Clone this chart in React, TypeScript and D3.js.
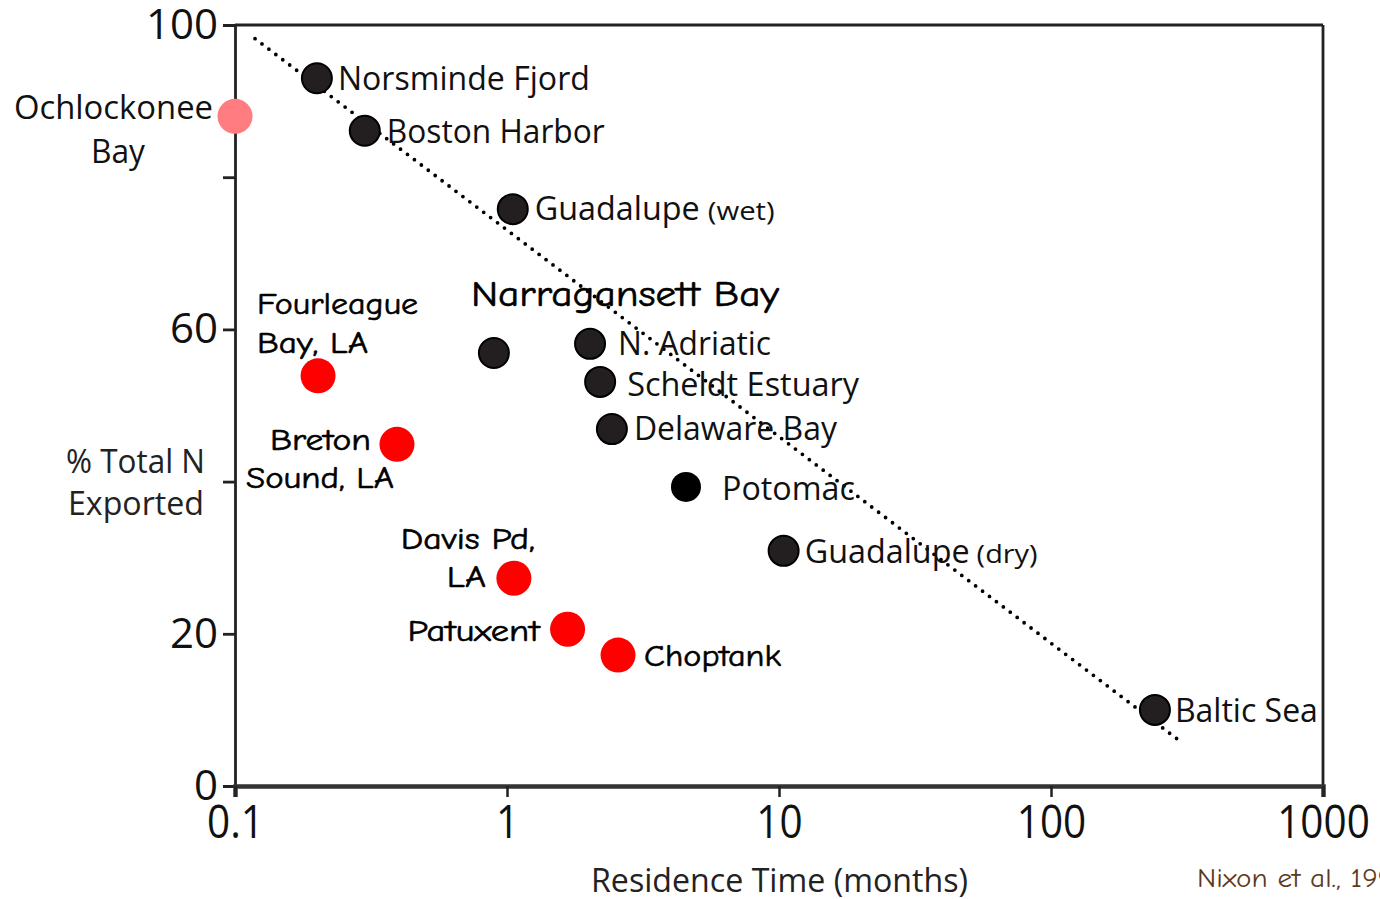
import React, { useEffect, useRef } from "react";
import * as d3 from "d3";

// ---- data ----
const sites = [
  "Ochlockonee Bay", "Norsminde Fjord", "Boston Harbor", "Guadalupe (wet)",
  "Narragansett Bay", "N. Adriatic", "Scheldt Estuary", "Delaware Bay",
  "Potomac", "Guadalupe (dry)", "Baltic Sea",
  "Fourleague Bay, LA", "Breton Sound, LA", "Davis Pd, LA", "Patuxent", "Choptank",
];
const residenceMonths = [0.1, 0.2, 0.3, 1.05, 0.895, 2.02, 2.2, 2.43, 4.55, 10.4, 241, 0.202, 0.394, 1.06, 1.67, 2.56];
const pctExported = [88.0, 93.0, 86.1, 75.8, 56.9, 58.1, 53.1, 46.9, 39.3, 30.9, 10.0, 53.9, 44.9, 27.3, 20.6, 17.2];
const siteGroup = ["pink", "black", "black", "black", "black", "black", "black", "black", "solid", "black", "black", "red", "red", "red", "red", "red"];
const trendX = [0.1185, 295.5];
const trendY = [98.2, 6.0];
const xTicks = [0.1, 1, 10, 100, 1000];
const xTickLabels = ["0.1", "1", "10", "100", "1000"];
const yTicks = [0, 20, 40, 60, 80, 100];
const yTickLabels = ["0", "20", "", "60", "", "100"];
const yAxisTitle = ["% Total N", "Exported"];
const xAxisTitle = "Residence Time (months)";
const citation = "Nixon et al., 1996";

// ---- label layout (offsets from point, in px) ----
type L = { t: string; dx: number; dy: number; s: number; c?: boolean; w: number };
const labelLayout: L[][] = [
  [{ t: "Ochlockonee", dx: -221, dy: 3, s: 33, w: 199 }, { t: "Bay", dx: -144, dy: 47, s: 33, w: 54 }],
  [{ t: "Norsminde Fjord", dx: 21, dy: 12, s: 33, w: 252 }],
  [{ t: "Boston Harbor", dx: 22, dy: 12, s: 33, w: 218 }],
  [{ t: "Guadalupe", dx: 22, dy: 11, s: 33, w: 165 }, { t: "(wet)", dx: 195, dy: 11, s: 26, w: 67 }],
  [{ t: "Narragansett Bay", dx: -23, dy: -47, s: 37, c: true, w: 308 }],
  [{ t: "N. Adriatic", dx: 28, dy: 11, s: 33, w: 153 }],
  [{ t: "Scheldt Estuary", dx: 27, dy: 14, s: 33, w: 232 }],
  [{ t: "Delaware Bay", dx: 22, dy: 11, s: 33, w: 203 }],
  [{ t: "Potomac", dx: 36, dy: 13, s: 33, w: 133 }],
  [{ t: "Guadalupe", dx: 21, dy: 12, s: 33, w: 165 }, { t: "(dry)", dx: 193, dy: 12, s: 26, w: 61 }],
  [{ t: "Baltic Sea", dx: 20, dy: 12, s: 33, w: 143 }],
  [{ t: "Fourleague", dx: -61, dy: -62, s: 31, c: true, w: 161 }, { t: "Bay, LA", dx: -61, dy: -23, s: 31, c: true, w: 111 }],
  [{ t: "Breton", dx: -127, dy: 6, s: 31, c: true, w: 101 }, { t: "Sound, LA", dx: -151, dy: 44, s: 31, c: true, w: 148 }],
  [{ t: "Davis Pd,", dx: -113, dy: -29, s: 31, c: true, w: 134 }, { t: "LA", dx: -67, dy: 9, s: 31, c: true, w: 39 }],
  [{ t: "Patuxent", dx: -160, dy: 12, s: 31, c: true, w: 132 }],
  [{ t: "Choptank", dx: 26, dy: 11, s: 31, c: true, w: 137 }],
];

const W = 1380, H = 899;
const SANS = "'Open Sans', 'Noto Sans', sans-serif";
const COMIC = "'Comic Sans MS', 'Comic Neue', 'DejaVu Sans', sans-serif";

export default function App() {
  const ref = useRef<SVGSVGElement | null>(null);
  useEffect(() => {
    const svg = d3.select(ref.current!);
    svg.selectAll("*").remove();
    const x = d3.scaleLog().domain([0.1, 1000]).range([235, 1323]);
    const y = d3.scaleLinear().domain([0, 100]).range([786, 25]);

    // frame
    svg.append("line").attr("x1", 235).attr("x2", 1323).attr("y1", y(100)).attr("y2", y(100)).attr("stroke", "#222").attr("stroke-width", 2.8);
    svg.append("line").attr("x1", 1323).attr("x2", 1323).attr("y1", y(100)).attr("y2", y(0)).attr("stroke", "#222").attr("stroke-width", 2.8);

    // y axis
    const ya = svg.append("g").attr("transform", "translate(235,0)")
      .call(d3.axisLeft(y).tickValues(yTicks).tickSize(12).tickPadding(5)
        .tickFormat((d, i) => yTickLabels[i]));
    ya.select(".domain").attr("stroke", "#222").attr("stroke-width", 2.8);
    ya.selectAll(".tick line").attr("stroke", "#222").attr("stroke-width", 2.8);
    ya.selectAll(".tick text").attr("font-family", SANS).attr("font-size", 42).attr("fill", "#111");

    // x axis
    const xa = svg.append("g").attr("transform", `translate(0,${y(0)})`)
      .call(d3.axisBottom(x).tickValues(xTicks).tickSize(11).tickPadding(8)
        .tickFormat((d, i) => xTickLabels[i]));
    xa.select(".domain").attr("stroke", "#333").attr("stroke-width", 4.5);
    xa.selectAll(".tick line").attr("stroke", "#222").attr("stroke-width", 2.5);
    xa.selectAll<SVGTextElement, unknown>(".tick text").attr("font-family", SANS).attr("font-size", 46).attr("fill", "#111")
      .each(function () {
        const len = this.getComputedTextLength();
        d3.select(this).attr("textLength", len * 0.88).attr("lengthAdjust", "spacingAndGlyphs");
      });

    // trend line
    const line = d3.line<number>().x((d) => x(trendX[d])).y((d) => y(trendY[d]));
    svg.append("path").attr("d", line([0, 1])).attr("fill", "none").attr("stroke", "#000")
      .attr("stroke-width", 3.8).attr("stroke-linecap", "round").attr("stroke-dasharray", "0 8.7");

    // points
    const idx = d3.range(sites.length);
    const g = svg.append("g");
    g.selectAll("circle").data(idx).join("circle")
      .attr("cx", (i) => x(residenceMonths[i]))
      .attr("cy", (i) => y(pctExported[i]))
      .attr("r", (i) => (siteGroup[i] === "red" || siteGroup[i] === "pink" ? 17.5 : 15))
      .attr("fill", (i) => siteGroup[i] === "red" ? "#ff0000" : siteGroup[i] === "pink" ? "#ff7d80" : siteGroup[i] === "solid" ? "#000" : "#231f20")
      .attr("stroke", (i) => siteGroup[i] === "black" ? "#000" : "none")
      .attr("stroke-width", 2);

    // labels
    idx.forEach((i) => {
      const px = x(residenceMonths[i]), py = y(pctExported[i]);
      labelLayout[i].forEach((l) => {
        svg.append("text").attr("x", px + l.dx).attr("y", py + l.dy)
          .attr("font-family", l.c ? COMIC : SANS).attr("font-size", l.s).attr("fill", l.c ? "#000" : "#111")
          .attr("stroke", l.c ? "#000" : "none").attr("stroke-width", l.c ? 0.6 : 0)
          .attr("textLength", l.w).attr("lengthAdjust", "spacingAndGlyphs").text(l.t);
      });
    });

    // axis titles
    svg.append("text").attr("x", 66).attr("y", 473).attr("font-family", SANS).attr("font-size", 32).attr("fill", "#222")
      .attr("textLength", 139).attr("lengthAdjust", "spacingAndGlyphs").text(yAxisTitle[0]);
    svg.append("text").attr("x", 68).attr("y", 515).attr("font-family", SANS).attr("font-size", 32).attr("fill", "#222")
      .attr("textLength", 136).attr("lengthAdjust", "spacingAndGlyphs").text(yAxisTitle[1]);
    svg.append("text").attr("x", 591).attr("y", 892).attr("font-family", SANS).attr("font-size", 32).attr("fill", "#222")
      .attr("textLength", 377).attr("lengthAdjust", "spacingAndGlyphs").text(xAxisTitle);
    svg.append("text").attr("x", 1197).attr("y", 887).attr("font-family", COMIC).attr("font-size", 27).attr("fill", "#5b3a1e")
      .attr("textLength", 212).attr("lengthAdjust", "spacingAndGlyphs").text(citation);
  }, []);
  return (
    <div style={{ position: "absolute", left: 0, top: 0, width: W, height: H, overflow: "hidden", background: "#fff" }}>
      <svg ref={ref} width={W} height={H} style={{ display: "block" }} />
    </div>
  );
}
